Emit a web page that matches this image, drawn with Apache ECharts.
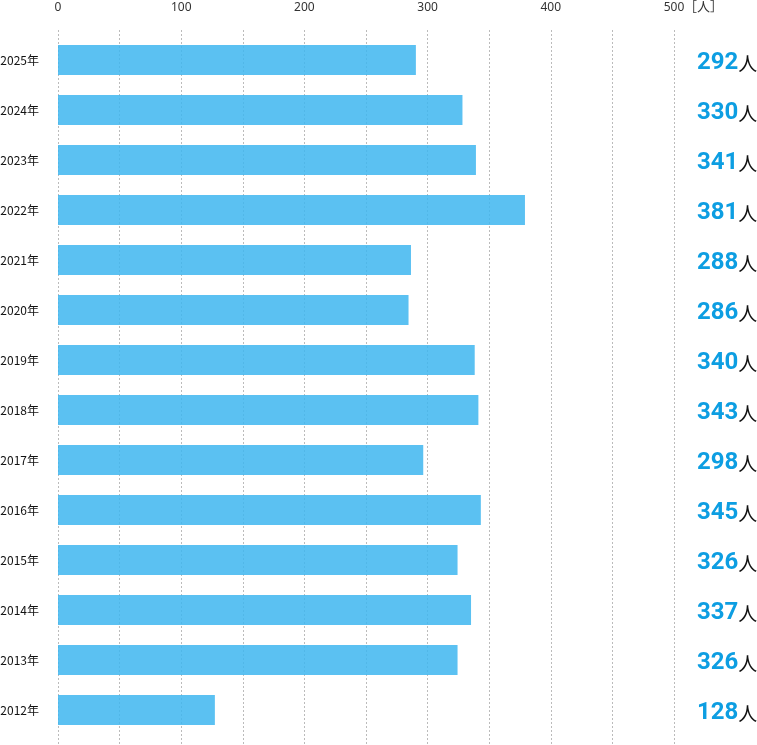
<!DOCTYPE html>
<html>
<head>
<meta charset="utf-8">
<script src="https://cdn.jsdelivr.net/npm/echarts@6/dist/echarts.min.js"></script>
<style>
  html, body { margin: 0; padding: 0; background: #fff; }
  #chart { width: 757px; height: 745px; }
</style>
</head>
<body>
<div id="chart"></div>
<script>
const years = ['2025年', '2024年', '2023年', '2022年', '2021年', '2020年', '2019年',
  '2018年', '2017年', '2016年', '2015年', '2014年', '2013年', '2012年'];
const counts = [292, 330, 341, 381, 288, 286, 340, 343, 298, 345, 326, 337, 326, 128];

const chart = echarts.init(document.getElementById('chart'));

const option = {
  animation: false,
  grid: [
    // gridlines + top scale, taller than the bars
    { left: 58, width: 616, top: 30, bottom: 0, outerBoundsMode: 'none' },
    // bars
    { left: 58, width: 616, top: 35, height: 700, outerBoundsMode: 'none' }
  ],
  xAxis: [
    {
      gridIndex: 0,
      type: 'value', position: 'top', min: 0, max: 500, interval: 50,
      axisLine: { show: false }, axisTick: { show: false },
      axisLabel: {
        margin: 16,
        color: '#333',
        fontSize: 12,
        fontFamily: 'Noto Sans',
        formatter: function (v) { return v % 100 === 0 ? String(v) : ''; }
      },
      splitLine: { lineStyle: { color: '#bbbbbb', width: 1, type: [2, 2] } }
    },
    {
      gridIndex: 1,
      type: 'value', min: 0, max: 502.6,
      show: false,
      splitLine: { show: false }
    }
  ],
  yAxis: [
    {
      gridIndex: 0, type: 'category', data: years, inverse: true,
      show: false
    },
    {
      gridIndex: 1, type: 'category', data: years, inverse: true,
      axisLine: { show: false }, axisTick: { show: false },
      axisLabel: {
        margin: 19,
        color: '#111',
        fontSize: 12,
        fontFamily: 'Noto Sans CJK JP',
        padding: [2, 0, 0, 0]
      }
    },
    {
      gridIndex: 1, type: 'category', data: years, inverse: true, position: 'right',
      axisLine: { show: false }, axisTick: { show: false },
      axisLabel: {
        margin: 23,
        align: 'left',
        padding: [5, 0, 0, 0],
        formatter: function (v, i) {
          return '{n|' + counts[i] + '}{u|人}';
        },
        rich: {
          n: { fontFamily: 'Roboto', fontWeight: 'bold', fontSize: 24, color: '#0d9ee2' },
          u: { fontFamily: 'Noto Sans CJK JP', fontSize: 19, color: '#111', padding: [3, 0, 0, 0] }
        }
      }
    }
  ],
  graphic: [
    {
      type: 'text',
      left: 684, top: 0,
      style: { text: '［人］', fontFamily: 'Noto Sans CJK JP', fontSize: 13, fill: '#333' }
    }
  ],
  series: [
    {
      type: 'bar',
      xAxisIndex: 1, yAxisIndex: 1,
      data: counts,
      barWidth: 30,
      itemStyle: { color: 'rgb(62,182,240)', opacity: 0.85 }
    }
  ]
};

chart.setOption(option);
</script>
</body>
</html>
